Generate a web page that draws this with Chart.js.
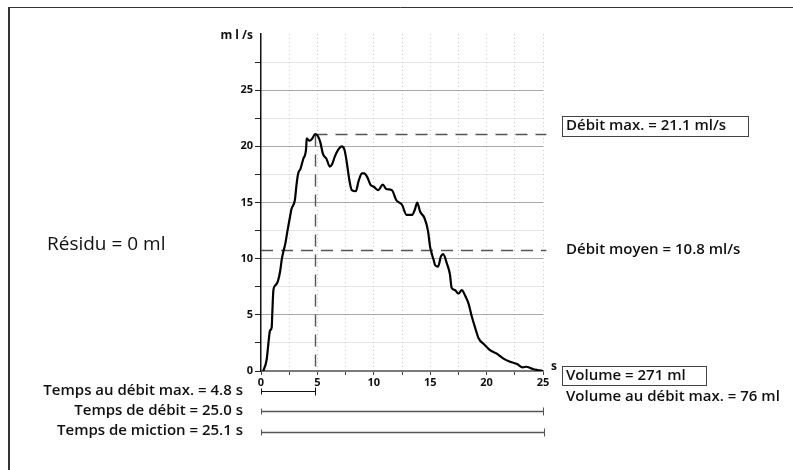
<!DOCTYPE html>
<html>
<head>
<meta charset="utf-8">
<script src="https://cdn.jsdelivr.net/npm/chart.js@4.4.1/dist/chart.umd.min.js"></script>
<style>
    html, body { margin: 0; padding: 0; background: #fff; }
    #wrap { width: 793px; height: 470px; }
</style>
</head>
<body>
<div id="wrap"><canvas id="flowChart" width="793" height="470"></canvas></div>
<script>
// flow curve: time (s) / flow rate (ml/s)
var flowTime = [0.2, 0.5, 0.65, 0.8, 0.95, 1.0, 1.1, 1.25, 1.5, 1.7, 1.85, 2.0, 2.15, 2.35, 2.55, 2.7,
    3.0, 3.15, 3.3, 3.5, 3.75, 4.0, 4.05, 4.3, 4.55, 4.8, 5.05, 5.25, 5.5, 5.8, 6.1, 6.3, 6.55, 6.85,
    7.15, 7.4, 7.6, 7.85, 8.05, 8.4, 8.65, 8.95, 9.15, 9.4, 9.7, 10.0, 10.4, 10.8, 11.1, 11.6, 12.0,
    12.5, 12.9, 13.4, 13.65, 13.85, 14.1, 14.5, 14.8, 15.0, 15.15, 15.3, 15.45, 15.7, 15.95, 16.15,
    16.5, 16.75, 16.9, 17.2, 17.5, 17.8, 18.1, 18.4, 18.7, 19.0, 19.3, 19.85, 20.3, 20.9, 21.5, 22.1,
    22.7, 23.2, 23.5, 24.1, 24.5, 25.0];
var flowRate = [0, 1.0, 2.4, 3.6, 3.9, 5.1, 7.2, 7.6, 8.0, 8.9, 10.0, 10.7, 11.3, 12.5, 13.6, 14.4,
    15.2, 16.6, 17.6, 18.0, 18.9, 19.8, 20.7, 20.5, 20.7, 21.1, 20.9, 20.4, 19.3, 18.9, 18.2, 18.4, 19.1, 19.7,
    20.0, 19.7, 18.6, 16.9, 16.1, 16.0, 16.9, 17.6, 17.6, 17.3, 16.6, 16.4, 16.1, 16.6, 16.2, 16.1, 15.2,
    14.8, 13.9, 13.9, 14.4, 15.0, 14.2, 13.6, 12.5, 11.0, 10.4, 9.9, 9.4, 9.3, 10.2, 10.4,
    9.5, 8.6, 7.4, 7.2, 6.9, 7.2, 6.7, 6.0, 4.8, 3.8, 2.9, 2.3, 1.85, 1.55, 1.1, 0.82,
    0.62, 0.33, 0.38, 0.18, 0.09, 0];

var xTickLabels = [0, 5, 10, 15, 20, 25];
var yTickLabels = [0, 5, 10, 15, 20, 25];

// results
var qMax = 21.1;
var timeToQmax = 4.8;
var qAvg = 10.8;
var flowTimeTotal = 25.0;
var voidingTime = 25.1;
var voidedVolume = 271;
var volumeAtQmax = 76;
var residual = 0;

var FONT = '"Open Sans", "DejaVu Sans", sans-serif';
var NONE = 'rgba(0,0,0,0)';

function strokeLine(ctx, x1, y1, x2, y2) {
    ctx.beginPath();
    ctx.moveTo(x1, y1);
    ctx.lineTo(x2, y2);
    ctx.stroke();
}

// horizontal time bar with end marks
function timeBar(ctx, x1, x2, y, color, width) {
    ctx.strokeStyle = color;
    ctx.lineWidth = width;
    strokeLine(ctx, x1, y, x2, y);
    ctx.lineWidth = 1;
    strokeLine(ctx, x1 + 0.5, y - 3, x1 + 0.5, y + 3);
    strokeLine(ctx, x2 + 0.5, y - 4, x2 + 0.5, y + 4);
}

var uroPlugin = {
    id: 'uroAnnotations',
    beforeDatasetsDraw: function (chart) {
        var ctx = chart.ctx;
        var xs = chart.scales.x;
        var ys = chart.scales.y;
        var yMax = Math.round(ys.getPixelForValue(qMax)) + 0.5;
        var yAvg = Math.round(ys.getPixelForValue(qAvg)) + 0.5;
        var xQ = Math.round(xs.getPixelForValue(timeToQmax)) + 0.5;
        var xEnd = xs.getPixelForValue(25.3);

        ctx.save();
        ctx.strokeStyle = '#555';
        ctx.lineWidth = 1.4;
        ctx.setLineDash([12, 8]);
        strokeLine(ctx, xQ, yMax, xEnd, yMax);
        strokeLine(ctx, xQ, yMax, xQ, ys.bottom);
        strokeLine(ctx, xs.getPixelForValue(0), yAvg, xEnd, yAvg);
        ctx.restore();
    },
    afterDraw: function (chart) {
        var ctx = chart.ctx;
        var xs = chart.scales.x;
        var x0 = xs.getPixelForValue(0);

        ctx.save();
        // frame
        ctx.strokeStyle = '#333';
        ctx.lineWidth = 2;
        strokeLine(ctx, 9, 7, 9, 470);
        ctx.lineWidth = 1;
        strokeLine(ctx, 8, 7.5, 793, 7.5);

        // axis units
        ctx.fillStyle = '#111';
        ctx.font = 'bold 12px ' + FONT;
        ctx.textBaseline = 'middle';
        ctx.textAlign = 'right';
        ctx.fillText('m l /s', 253, 36);
        ctx.textAlign = 'left';
        ctx.fillText('s', 551, 367);

        ctx.font = '19px ' + FONT;
        ctx.fillText('Résidu = ' + residual + ' ml', 47, 245);

        ctx.font = '600 15px ' + FONT;
        ctx.fillText('Débit max. = ' + qMax.toFixed(1) + ' ml/s', 566, 126);
        ctx.fillText('Débit moyen = ' + qAvg.toFixed(1) + ' ml/s', 566, 250);
        ctx.fillText('Volume = ' + voidedVolume + ' ml', 566, 376);
        ctx.fillText('Volume au débit max. = ' + volumeAtQmax + ' ml', 566, 397);

        ctx.strokeStyle = '#444';
        ctx.lineWidth = 1;
        ctx.strokeRect(562.5, 116.5, 186, 20);
        ctx.strokeRect(562.5, 366.5, 144, 19);

        ctx.textAlign = 'right';
        ctx.fillText('Temps au débit max. = ' + timeToQmax.toFixed(1) + ' s', 243, 391);
        ctx.fillText('Temps de débit = ' + flowTimeTotal.toFixed(1) + ' s', 243, 411);
        ctx.fillText('Temps de miction = ' + voidingTime.toFixed(1) + ' s', 243, 431);

        timeBar(ctx, x0, Math.round(xs.getPixelForValue(timeToQmax)), 391.5, '#111', 1);
        timeBar(ctx, x0, Math.round(xs.getPixelForValue(flowTimeTotal)), 411.5, '#555', 1.4);
        timeBar(ctx, x0, Math.round(xs.getPixelForValue(voidingTime)), 432.5, '#555', 1.4);
        ctx.restore();
    }
};

var points = flowTime.map(function (t, i) {
    return { x: t, y: flowRate[i] };
});

new Chart(document.getElementById('flowChart'), {
    type: 'line',
    data: {
        datasets: [
            {
                data: points,
                borderColor: '#000',
                borderWidth: 2.2,
                pointRadius: 0,
                fill: false,
                cubicInterpolationMode: 'monotone'
            }
        ]
    },
    options: {
        responsive: false,
        animation: false,
        events: [],
        layout: {
            padding: { left: 0, top: 34, right: 250, bottom: 77 }
        },
        plugins: {
            legend: { display: false },
            tooltip: { enabled: false }
        },
        scales: {
            x: {
                type: 'linear',
                min: 0,
                max: 25,
                afterFit: function (scale) { scale.height = 22; },
                ticks: {
                    stepSize: 2.5,
                    autoSkip: false,
                    maxRotation: 0,
                    padding: 1,
                    color: '#111',
                    font: { family: FONT, size: 11, weight: 'bold' },
                    callback: function (v) {
                        return xTickLabels.indexOf(v) >= 0 ? String(v) : '';
                    }
                },
                grid: {
                    color: function (c) { return c.tick && c.tick.value === 0 ? NONE : '#c6c6c6'; },
                    tickColor: '#444',
                    tickLength: 4,
                    lineWidth: 1
                },
                border: { color: '#7a7a7a', width: 2, dash: [1, 3] }
            },
            y: {
                type: 'linear',
                min: 0,
                max: 30,
                afterFit: function (scale) { scale.width = 261; },
                ticks: {
                    stepSize: 2.5,
                    autoSkip: false,
                    padding: 2,
                    color: '#111',
                    font: { family: FONT, size: 11, weight: 'bold' },
                    callback: function (v) {
                        return yTickLabels.indexOf(v) >= 0 ? String(v) : '';
                    }
                },
                grid: {
                    color: function (c) {
                        var v = c.tick ? c.tick.value : 0;
                        if (v === 0 || v === 30) return NONE;
                        return v % 5 === 0 ? '#555' : '#cdcdcd';
                    },
                    tickColor: function (c) {
                        return c.tick && c.tick.value === 30 ? NONE : '#222';
                    },
                    tickLength: 6,
                    lineWidth: 1
                },
                border: { color: '#111', width: 1.5, dash: [1, 1] }
            }
        }
    },
    plugins: [uroPlugin]
});
</script>
</body>
</html>
